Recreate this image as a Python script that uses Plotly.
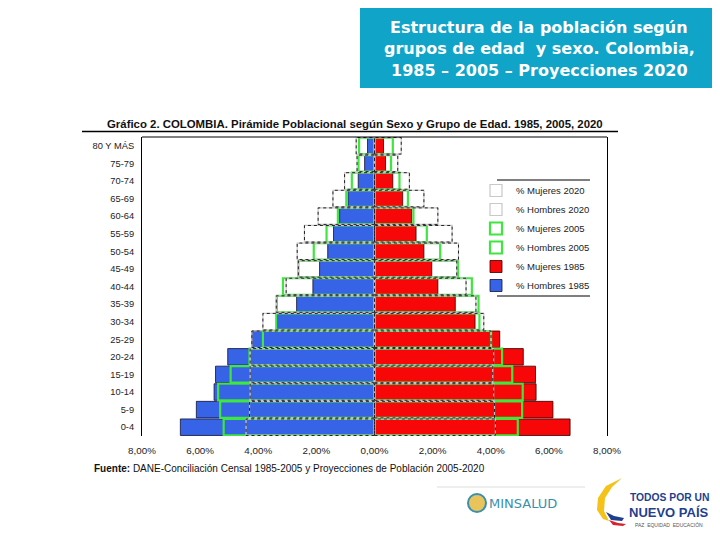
import plotly.graph_objects as go

# ============================
# Data (% of total population)
# ============================
grupos = ["0-4", "5-9", "10-14", "15-19", "20-24", "25-29", "30-34", "35-39",
          "40-44", "45-49", "50-54", "55-59", "60-64", "65-69", "70-74", "75-79",
          "80 Y MÁS"]

hombres_1985 = [6.68, 6.13, 5.52, 5.47, 5.05, 4.22, 3.35, 2.68, 2.12, 1.89, 1.61,
                1.41, 1.20, 0.91, 0.56, 0.34, 0.24]
mujeres_1985 = [6.73, 6.14, 5.56, 5.54, 5.12, 4.31, 3.46, 2.78, 2.18, 1.97, 1.70,
                1.43, 1.28, 0.97, 0.63, 0.38, 0.31]
hombres_2005 = [5.19, 5.31, 5.38, 4.95, 4.30, 3.84, 3.38, 3.36, 3.15, 2.62, 2.09,
                1.65, 1.26, 0.97, 0.78, 0.55, 0.53]
mujeres_2005 = [4.93, 5.08, 5.10, 4.74, 4.39, 4.01, 3.61, 3.58, 3.35, 2.87, 2.26,
                1.80, 1.34, 1.15, 0.86, 0.57, 0.63]
hombres_2020 = [4.42, 4.30, 4.28, 4.28, 4.28, 4.22, 3.84, 3.38, 3.04, 2.62, 2.66,
                2.41, 1.94, 1.43, 1.03, 0.60, 0.63]
mujeres_2020 = [4.16, 4.13, 4.10, 4.07, 4.10, 4.01, 3.76, 3.49, 3.15, 2.83, 2.89,
                2.67, 2.18, 1.70, 1.20, 0.80, 0.92]

x_ticks = [-8, -6, -4, -2, 0, 2, 4, 6, 8]
x_tick_labels = ["8,00%", "6,00%", "4,00%", "2,00%", "0,00%", "2,00%", "4,00%",
                 "6,00%", "8,00%"]

# ============================
# Page geometry (screen px) -> paper coords
# the page body has an 8px margin, so the figure is 8px smaller
# ============================
OFF = 8
W, H = 720, 540
L, R, T, B = 142, 607, 137, 436


def px(x, y):
    return (x - L) / (R - L), (B - y) / (B - T)


idx = list(range(len(grupos)))
half = 0.47

BLUE = "#3763e6"
RED = "#f70707"
GREEN = "#3fe63f"

fig = go.Figure()

# 1985 filled bars
fig.add_trace(go.Bar(y=idx, x=[-v for v in hombres_1985], orientation="h",
                     name="% Hombres 1985", marker=dict(color=BLUE, line=dict(color="#111133", width=0.8))))
fig.add_trace(go.Bar(y=idx, x=mujeres_1985, orientation="h",
                     name="% Mujeres 1985", marker=dict(color=RED, line=dict(color="#330000", width=0.8))))

# 2005 green outlines
fig.add_trace(go.Bar(y=idx, x=[-v for v in hombres_2005], orientation="h",
                     name="% Hombres 2005",
                     marker=dict(color="rgba(0,0,0,0)", line=dict(color=GREEN, width=2.2))))
fig.add_trace(go.Bar(y=idx, x=mujeres_2005, orientation="h",
                     name="% Mujeres 2005",
                     marker=dict(color="rgba(0,0,0,0)", line=dict(color=GREEN, width=2.2))))

# 2020 dotted outlines: light gray bar outline + black dotted overlay
fig.add_trace(go.Bar(y=idx, x=[-v for v in hombres_2020], orientation="h",
                     name="% Hombres 2020",
                     marker=dict(color="rgba(0,0,0,0)", line=dict(color="#c8c8c8", width=1.2))))
fig.add_trace(go.Bar(y=idx, x=mujeres_2020, orientation="h",
                     name="% Mujeres 2020",
                     marker=dict(color="rgba(0,0,0,0)", line=dict(color="#c8c8c8", width=1.2))))


def outline(values, sign):
    xs, ys = [], []
    for i, v in zip(idx, values):
        xs += [0, sign * v, sign * v, 0, 0, None]
        ys += [i - half, i - half, i + half, i + half, i - half, None]
    return xs, ys


for vals, sign in [(hombres_2020, -1), (mujeres_2020, 1)]:
    xs, ys = outline(vals, sign)
    fig.add_trace(go.Scatter(x=xs, y=ys, mode="lines", showlegend=False, hoverinfo="skip",
                             line=dict(color="#222222", width=1, dash="dot")))

shapes = []
annotations = []


def note(x, y, text, size, color, family="Liberation Sans", xanchor="center"):
    ax, ay = px(x, y)
    annotations.append(dict(xref="paper", yref="paper", x=ax, y=ay, xanchor=xanchor,
                            yanchor="middle", showarrow=False, text=text, align="center",
                            font=dict(family=family, size=size, color=color)))


def hline(x0, x1, y, color, width):
    a, yy = px(x0, y)
    c, _ = px(x1, y)
    shapes.append(dict(type="line", xref="paper", yref="paper", x0=a, y0=yy, x1=c, y1=yy,
                       line=dict(color=color, width=width)))


# teal title box
x0, y0 = px(360, 3)
x1, y1 = px(712, 88)
shapes.append(dict(type="rect", xref="paper", yref="paper", x0=x0, y0=y0, x1=x1, y1=y1,
                   fillcolor="#0fa4c8", line=dict(width=0), layer="below"))
note(539, 27, "<b>Estructura de la población según</b>", 16, "white", "DejaVu Sans")
note(539, 49, "<b>grupos de edad  y sexo. Colombia,</b>", 16, "white", "DejaVu Sans")
note(539, 71, "<b>1985 – 2005 – Proyecciones 2020</b>", 16, "white", "DejaVu Sans")

# chart title and rule under it
note(355, 124, "<b>Gráfico 2. COLOMBIA. Pirámide Poblacional según Sexo y Grupo de Edad. 1985, 2005, 2020</b>",
     11.4, "#111111")
hline(82, 618, 131.5, "black", 1.5)
# top border of plot
shapes.append(dict(type="line", xref="paper", yref="paper", x0=0, y0=1, x1=1, y1=1,
                   line=dict(color="black", width=1)))

# legend rules
hline(497, 590, 180, "black", 1.2)
hline(497, 590, 296, "black", 1.2)

# source note
note(92, 468, "<b>Fuente:</b> DANE-Conciliación Censal 1985-2005 y Proyecciones de Población 2005-2020",
     10, "#111111", xanchor="left")

# MINSALUD logo
hline(437, 585, 487, "#dddddd", 1)
cx0, cy0 = px(468, 494)
cx1, cy1 = px(486, 512)
shapes.append(dict(type="circle", xref="paper", yref="paper", x0=cx0, y0=cy0, x1=cx1, y1=cy1,
                   fillcolor="#e8c45a", line=dict(color="#3a8fb0", width=2)))
note(523, 503, "MINSALUD", 13, "#3b8fae", "DejaVu Sans")


# Todos por un nuevo país logo
def path(points):
    p = []
    for k, (x, y) in enumerate(points):
        xx, yy = px(x, y)
        p.append(("M" if k == 0 else "L") + f"{xx:.4f},{yy:.4f}")
    return " ".join(p) + " Z"


shapes.append(dict(type="path", xref="paper", yref="paper", fillcolor="#f5c21a", line=dict(width=0),
                   path=path([(622, 478), (606, 486), (598, 498), (597, 510), (603, 519), (609, 521),
                              (604, 511), (605, 498), (612, 487)])))
shapes.append(dict(type="path", xref="paper", yref="paper", fillcolor="#1f3f8f", line=dict(width=0),
                   path=path([(606, 512), (614, 516), (624, 518), (622, 521), (611, 520)])))
shapes.append(dict(type="path", xref="paper", yref="paper", fillcolor="#d8232a", line=dict(width=0),
                   path=path([(609, 520), (618, 523), (626, 524), (623, 526), (613, 525)])))
note(669, 497, "<b>TODOS POR UN</b>", 10.3, "#1f3f8f")
note(669, 512, "<b>NUEVO PAÍS</b>", 13, "#1f3f8f")
note(669, 525, "PAZ  EQUIDAD  EDUCACIÓN", 5, "#555555")

lgx, lgy = px(476, 176)

fig.update_layout(
    width=W - OFF, height=H - OFF,
    margin=dict(l=L - OFF, r=W - R, t=T - OFF, b=H - B),
    paper_bgcolor="white", plot_bgcolor="white",
    barmode="overlay", bargap=0.06,
    font=dict(family="Liberation Sans", size=9.5, color="#222222"),
    xaxis=dict(range=[-8, 8], tickvals=x_ticks, ticktext=x_tick_labels, showgrid=False,
               zeroline=False, showline=False, ticks="outside", ticklen=5,
               tickcolor="rgba(0,0,0,0)", tickfont=dict(size=9.8)),
    yaxis=dict(range=[-0.5, len(grupos) - 0.5], tickvals=idx, ticktext=grupos, showgrid=False,
               zeroline=False, showline=True, mirror=True, linecolor="black", linewidth=1,
               ticks="outside", ticklen=5, tickcolor="rgba(0,0,0,0)", tickfont=dict(size=9.3)),
    legend=dict(x=lgx, y=lgy, xanchor="left", yanchor="top", traceorder="reversed",
                bgcolor="rgba(0,0,0,0)", font=dict(size=9.5, color="#222222"), itemwidth=30),
    shapes=shapes, annotations=annotations,
)

fig.write_html("out.html")
